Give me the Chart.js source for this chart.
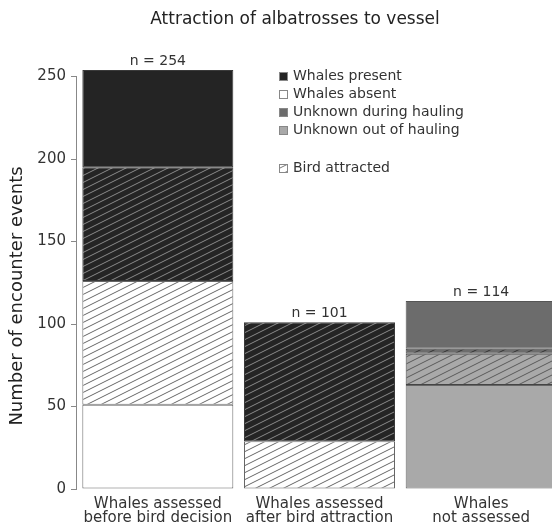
<!DOCTYPE html>
<html>
<head>
<meta charset="utf-8">
<script src="https://cdn.jsdelivr.net/npm/chart.js@4.4.1/dist/chart.umd.min.js"></script>
<style>
  html, body { margin: 0; padding: 0; background: #fff; overflow: hidden; }
</style>
</head>
<body>
<canvas id="albatross" width="566" height="528"></canvas>
<script>
// categories along x (two-line labels)
const categories = [
  ['Whales assessed', 'before bird decision'],
  ['Whales assessed', 'after bird attraction'],
  ['Whales', 'not assessed']
];

// stacked segments, bottom to top
const absentNotAttracted = [51, null, null];
const absentAttracted = [75, 29, null];
const presentAttracted = [69, 72, null];
const presentNotAttracted = [59, null, null];
const outHaulingNotAttracted = [null, null, 63];
const outHaulingAttracted = [null, null, 19];
const duringHaulingAttracted = [null, null, 3];
const duringHaulingNotAttracted = [null, null, 29];

const yTicks = [0, 50, 100, 150, 200, 250];
const legendLabels = ['Whales present', 'Whales absent', 'Unknown during hauling', 'Unknown out of hauling'];
const attractedLabel = 'Bird attracted';

const FONT = 'DejaVu Sans';
const TEXT = '#333';
const BLACK = '#242424';
const WHITE = '#ffffff';
const DARK = '#6c6c6c';
const GREY = '#a9a9a9';

const canvas = document.getElementById('albatross');
const ctx = canvas.getContext('2d');

function hatch(bg, line) {
  const tile = document.createElement('canvas');
  tile.width = 14;
  tile.height = 7;
  const g = tile.getContext('2d');
  g.fillStyle = bg;
  g.fillRect(0, 0, 14, 7);
  g.strokeStyle = line;
  g.lineWidth = 1;
  g.beginPath();
  for (const off of [-7, 0, 7]) {
    g.moveTo(0, 7 + off);
    g.lineTo(14, off);
  }
  g.stroke();
  return ctx.createPattern(tile, 'repeat');
}

const series = [
  { label: 'Whales absent', data: absentNotAttracted, color: WHITE, edge: '#666' },
  { label: 'Whales absent, attracted', data: absentAttracted, color: hatch(WHITE, '#666'), edge: '#666' },
  { label: 'Whales present, attracted', data: presentAttracted, color: hatch(BLACK, '#8a8a8a'), edge: '#3a3a3a' },
  { label: 'Whales present', data: presentNotAttracted, color: BLACK, edge: '#3a3a3a' },
  { label: 'Unknown out of hauling', data: outHaulingNotAttracted, color: GREY, edge: '#666' },
  { label: 'Unknown out of hauling, attracted', data: outHaulingAttracted, color: hatch(GREY, '#5a5a5a'), edge: '#444' },
  { label: 'Unknown during hauling, attracted', data: duringHaulingAttracted, color: hatch(DARK, '#333'), edge: '#444' },
  { label: 'Unknown during hauling', data: duringHaulingNotAttracted, color: DARK, edge: '#555' }
];

const totals = categories.map((_, i) => series.reduce((s, d) => s + (d.data[i] || 0), 0));

const extras = {
  id: 'extras',
  afterDraw(chart) {
    const c = chart.ctx;
    const x = chart.scales.x;
    const y = chart.scales.y;
    c.save();

    // title
    c.fillStyle = '#222';
    c.font = '17px ' + FONT;
    c.textAlign = 'center';
    c.textBaseline = 'middle';
    c.fillText('Attraction of albatrosses to vessel', 295, 20);

    // y axis title
    c.save();
    c.translate(17, 296);
    c.rotate(-Math.PI / 2);
    c.font = '18px ' + FONT;
    c.fillText('Number of encounter events', 0, 0);
    c.restore();

    // y axis line only between 0 and 250
    c.strokeStyle = '#888';
    c.lineWidth = 1;
    c.beginPath();
    c.moveTo(chart.chartArea.left - 0.5, y.getPixelForValue(yTicks[0]));
    c.lineTo(chart.chartArea.left - 0.5, y.getPixelForValue(yTicks[yTicks.length - 1]));
    c.stroke();

    // n = totals above bars
    c.fillStyle = TEXT;
    c.font = '14px ' + FONT;
    c.textBaseline = 'bottom';
    totals.forEach((t, i) => {
      c.fillText('n = ' + t, x.getPixelForValue(i), y.getPixelForValue(t) - 2);
    });

    // legend
    const boxes = [BLACK, WHITE, DARK, GREY];
    c.textAlign = 'left';
    c.textBaseline = 'middle';
    c.font = '14px ' + FONT;
    legendLabels.forEach((lab, i) => {
      const cy = 76 + i * 18;
      c.fillStyle = boxes[i];
      c.fillRect(279, cy - 4, 9, 9);
      c.strokeStyle = '#888';
      c.strokeRect(279.5, cy - 3.5, 8, 8);
      c.fillStyle = TEXT;
      c.fillText(lab, 293, cy);
    });
    const by = 168;
    c.fillStyle = hatch(WHITE, '#777');
    c.fillRect(279, by - 4, 9, 9);
    c.strokeStyle = '#888';
    c.strokeRect(279.5, by - 3.5, 8, 8);
    c.fillStyle = TEXT;
    c.fillText(attractedLabel, 293, by);

    c.restore();
  }
};

new Chart(canvas, {
  type: 'bar',
  data: {
    labels: categories,
    datasets: series.map(s => ({
      label: s.label,
      data: s.data,
      backgroundColor: s.color,
      borderColor: s.edge,
      borderWidth: 1,
      borderSkipped: false,
      categoryPercentage: 1,
      barPercentage: 0.934
    }))
  },
  options: {
    responsive: false,
    animation: false,
    devicePixelRatio: 1,
    layout: { padding: { top: 60, right: 4, left: 0, bottom: 0 } },
    plugins: {
      legend: { display: false },
      tooltip: { enabled: false },
      title: { display: false }
    },
    scales: {
      x: {
        stacked: true,
        afterFit: s => { s.height = 39; },
        grid: { display: false },
        border: { display: false },
        ticks: {
          color: TEXT,
          font: { family: FONT, size: 15, lineHeight: 0.95 },
          padding: 0,
          maxRotation: 0,
          autoSkip: false
        }
      },
      y: {
        stacked: true,
        min: 0,
        max: 260,
        afterFit: s => { s.width = 77; },
        afterBuildTicks: s => { s.ticks = yTicks.map(v => ({ value: v })); },
        grid: { drawOnChartArea: false, tickLength: 6, color: '#888' },
        border: { display: false },
        ticks: { color: TEXT, font: { family: FONT, size: 15 }, padding: 5 }
      }
    }
  },
  plugins: [extras]
});
</script>
</body>
</html>
